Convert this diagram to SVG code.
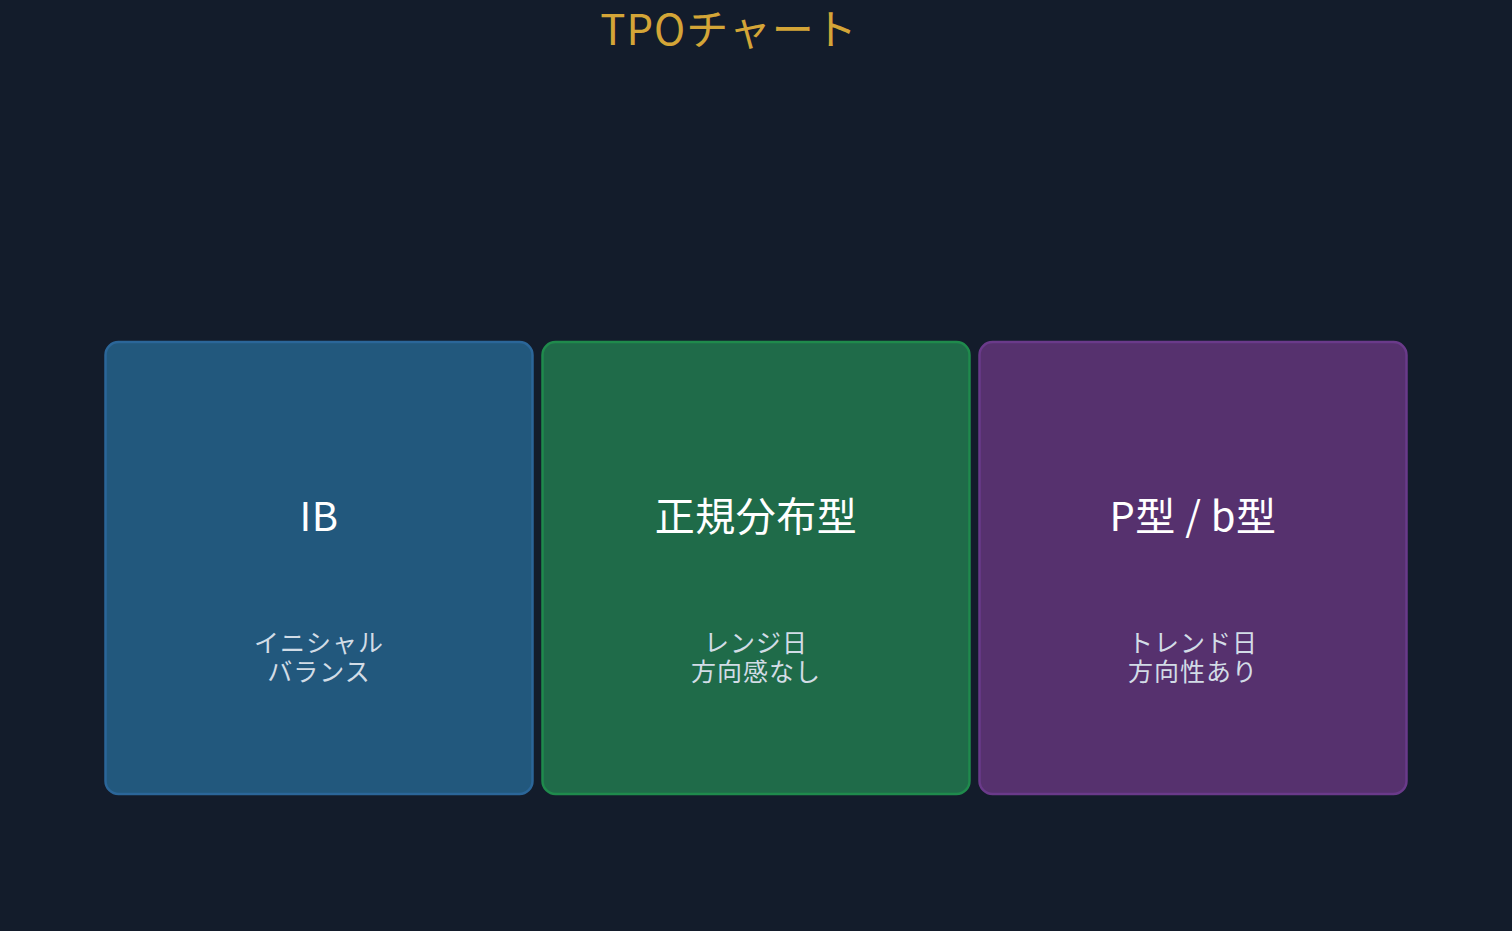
<svg xmlns="http://www.w3.org/2000/svg" width="1512" height="931" viewBox="0 0 1512 931">
<style>
.t{font-family:"Noto Sans CJK JP","Noto Sans",sans-serif;text-anchor:middle}
.title{font-size:42px;fill:#d4a537;letter-spacing:1px}
.main{font-size:40px;fill:#ffffff;letter-spacing:0.5px}
.sub{font-size:25px;fill:#d2dce6;letter-spacing:1px}
.box{stroke-width:2.5}
</style>
<rect width="1512" height="931" fill="#131c2b"/>
<text class="t title" x="729" y="45">TPOチャート</text>
<g id="ib">
<rect class="box" x="105.5" y="342" width="427" height="452" rx="13" fill="#22587d" stroke="#2b6699"/>
<text class="t main" x="319" y="531">IB</text>
<text class="t sub" x="319" y="652">イニシャル</text>
<text class="t sub" x="319" y="681">バランス</text>
</g>
<g id="normal">
<rect class="box" x="542.5" y="342" width="427" height="452" rx="13" fill="#1f6b49" stroke="#1f8a4c"/>
<text class="t main" x="756" y="531">正規分布型</text>
<text class="t sub" x="756" y="652">レンジ日</text>
<text class="t sub" x="756" y="681">方向感なし</text>
</g>
<g id="pb">
<rect class="box" x="979.5" y="342" width="427" height="452" rx="13" fill="#56316e" stroke="#6a3a8a"/>
<text class="t main" x="1193" y="531">P型 / b型</text>
<text class="t sub" x="1193" y="652">トレンド日</text>
<text class="t sub" x="1193" y="681">方向性あり</text>
</g>
<g id="connectors"></g>
</svg>
